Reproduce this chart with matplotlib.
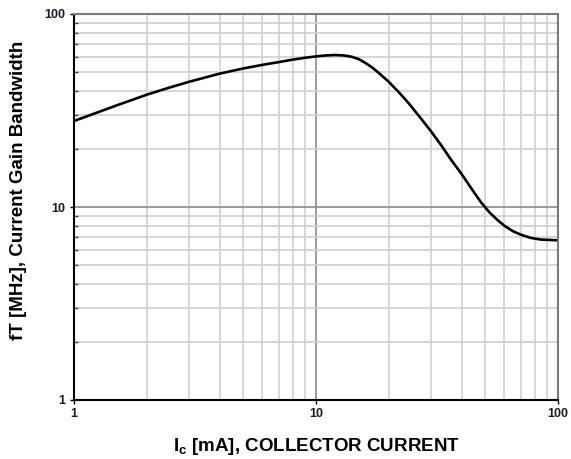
import matplotlib
matplotlib.use("Agg")
import matplotlib.pyplot as plt
from matplotlib.ticker import LogLocator, NullFormatter, FixedLocator, FixedFormatter

# Collector current (mA) and transition frequency fT (MHz)
ic_ma = [1, 1.5, 2, 2.5, 3, 4, 5, 6, 7, 8, 9, 10, 11, 12, 13, 14, 15, 16, 17, 18, 20,
         22, 24, 27, 30, 33, 36, 40, 44, 48, 52, 56, 60, 65, 70, 77, 85, 100]
ft_mhz = [27.9, 33.6, 38.2, 41.7, 44.6, 49.1, 52.2, 54.5, 56.3, 58.0, 59.3, 60.3,
          61.0, 61.3, 61.0, 60.1, 58.4, 55.8, 53.0, 50.0, 44.5, 39.3, 34.8, 29.0,
          24.5, 20.8, 17.7, 14.8, 12.4, 10.6, 9.4, 8.6, 8.0, 7.5, 7.2, 6.92, 6.78, 6.72]

x_ticks = [1, 10, 100]
x_tick_labels = ["1", "10", "100"]
y_ticks = [1, 10, 100]
y_tick_labels = ["1", "10", "100"]

plt.rcParams["font.family"] = ["Liberation Sans", "DejaVu Sans"]

fig = plt.figure(figsize=(5.71, 4.59), dpi=100)
ax = fig.add_axes([74 / 571, 59 / 459, 484 / 571, 386 / 459])

ax.set_xscale("log")
ax.set_yscale("log")
ax.set_xlim(1, 100)
ax.set_ylim(1, 100)

# grid: light minor lines, darker decade lines
ax.xaxis.set_minor_locator(LogLocator(base=10, subs=range(2, 10)))
ax.yaxis.set_minor_locator(LogLocator(base=10, subs=range(2, 10)))
ax.xaxis.set_minor_formatter(NullFormatter())
ax.yaxis.set_minor_formatter(NullFormatter())
ax.grid(True, which="minor", color="#cfcfcf", linewidth=1.2)
ax.grid(True, which="major", color="#8a8a8a", linewidth=1.2)
ax.set_axisbelow(True)

ax.plot(ic_ma, ft_mhz, color="black", linewidth=1.9,
        solid_capstyle="round", solid_joinstyle="round")

ax.xaxis.set_major_locator(FixedLocator(x_ticks))
ax.xaxis.set_major_formatter(FixedFormatter(x_tick_labels))
ax.yaxis.set_major_locator(FixedLocator(y_ticks))
ax.yaxis.set_major_formatter(FixedFormatter(y_tick_labels))

ax.tick_params(axis="both", which="major", direction="out", length=3, width=1,
               labelsize=9, pad=3, colors="black")
ax.tick_params(axis="x", which="minor", length=0)
ax.tick_params(axis="y", which="minor", direction="in", length=3, width=1, color="#444444")
for lab in ax.get_xticklabels() + ax.get_yticklabels():
    lab.set_fontweight("bold")
    lab.set_color("#1a1a2a")

ax.spines["left"].set_color("black")
ax.spines["bottom"].set_color("black")
ax.spines["left"].set_linewidth(1.5)
ax.spines["bottom"].set_linewidth(1.5)
ax.spines["top"].set_color("#7a7a7a")
ax.spines["right"].set_color("#7a7a7a")
ax.spines["top"].set_linewidth(1.5)
ax.spines["right"].set_linewidth(1.5)

ax.set_xlabel(r"I$_\mathregular{c}$ [mA], COLLECTOR CURRENT", fontsize=13.5,
              fontweight="bold", va="top")
ax.set_ylabel("fT [MHz], Current Gain Bandwidth", fontsize=13.5, fontweight="bold")
ax.xaxis.set_label_coords(0.5, -0.093)
ax.yaxis.set_label_coords(-0.097, 0.543)

fig.savefig("out.png", dpi=100)
